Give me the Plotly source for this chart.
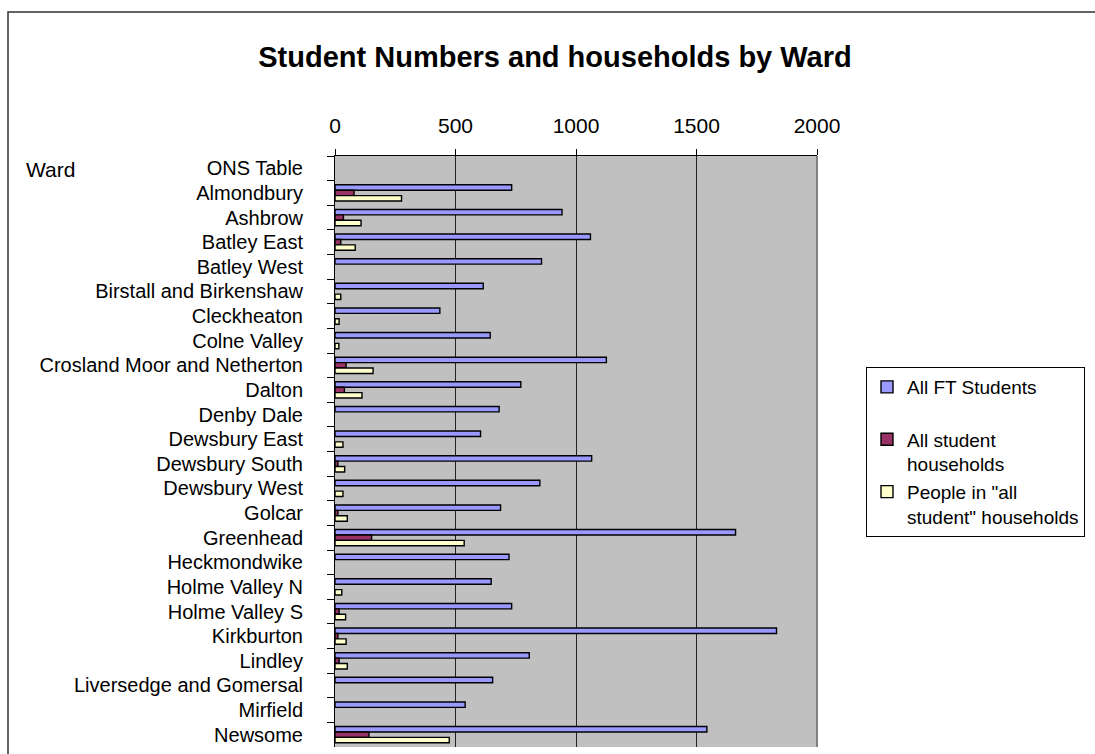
import plotly.graph_objects as go

wards = ["ONS Table", "Almondbury", "Ashbrow", "Batley East", "Batley West",
         "Birstall and Birkenshaw", "Cleckheaton", "Colne Valley",
         "Crosland Moor and Netherton", "Dalton", "Denby Dale", "Dewsbury East",
         "Dewsbury South", "Dewsbury West", "Golcar", "Greenhead", "Heckmondwike",
         "Holme Valley N", "Holme Valley S", "Kirkburton", "Lindley",
         "Liversedge and Gomersal", "Mirfield", "Newsome"]
ft_students = [None, 733, 942, 1060, 857, 615, 435, 644, 1126, 771, 681, 604,
               1065, 850, 687, 1662, 722, 648, 733, 1832, 806, 654, 540, 1543]
student_households = [None, 79, 35, 24, None, None, None, None, 46, 39, None, None,
                      12, None, 12, 152, None, None, 17, 12, 17, None, None, 141]
people_in_households = [None, 276, 108, 84, None, 24, 17, 16, 158, 112, None, 33,
                        40, 33, 51, 536, None, 28, 44, 46, 51, None, None, 474]

series_names = ["All FT Students<br> ", "All student<br>households",
                'People in "all<br>student" households']
series_colors = ["#9999FF", "#993366", "#FFFFCC"]
series_values = [ft_students, student_households, people_in_households]

FONT = "Liberation Sans, Arial, sans-serif"

fig = go.Figure()
for i, (name, vals, col) in enumerate(zip(series_names, series_values, series_colors)):
    fig.add_trace(go.Bar(
        y=wards, x=vals, name=name, orientation="h",
        marker=dict(color=col, line=dict(color="black", width=1.4)),
        legendgroup=f"g{i}",
    ))

W, H = 1095, 754
L, R, T, B = 335, 817, 156, 747
pw, ph = R - L, B - T

def px_x(x):
    return (x - L) / pw

def px_y(y):
    return (B - y) / ph

fig.update_layout(
    width=W, height=H,
    margin=dict(l=L, r=W - R, t=T, b=H - B, pad=0),
    paper_bgcolor="white",
    plot_bgcolor="#C0C0C0",
    barmode="group",
    bargap=0.34,
    bargroupgap=0,
    font=dict(family=FONT, size=20, color="black"),
    title=dict(text="<b>Student Numbers and households by Ward</b>",
               font=dict(family=FONT, size=29, color="black"),
               xref="paper", x=px_x(555), xanchor="center",
               yref="container", y=1 - 57 / H, yanchor="middle"),
    xaxis=dict(range=[0, 2000], dtick=500, side="top", ticks="outside",
               ticklen=6, tickcolor="black", showline=True, linecolor="black",
               linewidth=1, showgrid=True, gridcolor="#222222", gridwidth=1,
               zeroline=False, ticklabelstandoff=8, automargin=False,
               tickfont=dict(family=FONT, size=21, color="black")),
    yaxis=dict(type="category", categoryorder="array", categoryarray=wards,
               autorange="reversed", ticks="outside", tickson="boundaries",
               tickmode="linear", tick0=0, dtick=1, automargin=False,
               ticklen=7, tickcolor="black", showline=True, linecolor="black",
               linewidth=1, showgrid=False, ticklabelstandoff=27,
               tickfont=dict(family=FONT, size=20, color="black")),
    legend=dict(x=px_x(866), xanchor="left", y=px_y(367), yanchor="top",
                bordercolor="black", borderwidth=1, bgcolor="white",
                font=dict(family=FONT, size=19, color="black"),
                valign="top", tracegroupgap=3, itemwidth=30,
                traceorder="normal"),
    showlegend=True,
    shapes=[
        # right edge of plot area
        dict(type="line", xref="paper", yref="paper", x0=1, x1=1, y0=0, y1=1,
             line=dict(color="#808080", width=2)),
        # outer chart border
        dict(type="rect", xref="paper", yref="paper",
             x0=px_x(8), x1=px_x(1120), y0=px_y(790), y1=px_y(12),
             line=dict(color="#303030", width=1.5), layer="below"),
    ],
    annotations=[
        dict(text="Ward", xref="paper", yref="paper", x=px_x(24), y=px_y(169),
             xanchor="left", yanchor="middle", showarrow=False,
             font=dict(family=FONT, size=21, color="black")),
    ],
)

fig.write_html("out.html")
